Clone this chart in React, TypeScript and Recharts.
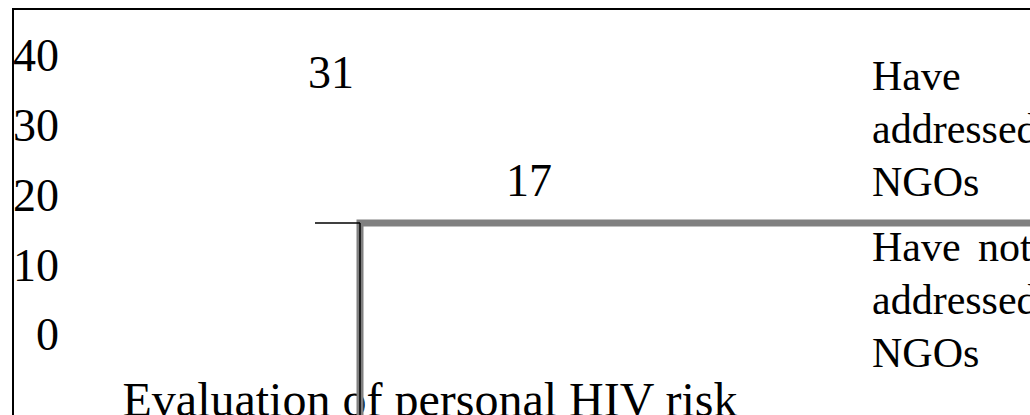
import React from "react";
import { Bar, BarChart, LabelList, Legend, ReferenceArea, XAxis, YAxis } from "recharts";

const categories = ["Evaluation of personal HIV risk"];
const addressedNgos = [31];
const notAddressedNgos = [17];
const seriesNames = ["Have addressed NGOs", "Have not addressed NGOs"];
const yTicks = [0, 10, 20, 30, 40];

const FONT = '"Liberation Serif", "Times New Roman", serif';

const rows = categories.map((category, i) => ({
  category,
  addressed: addressedNgos[i],
  notAddressed: notAddressedNgos[i],
}));

// legend is just the wrapped series names, no swatches
function LegendText({ payload }: any) {
  return (
    <div
      style={{
        fontFamily: FONT,
        fontSize: 42,
        lineHeight: "53px",
        wordSpacing: 7,
        color: "#000",
        width: 220,
      }}
    >
      {(payload ?? []).map((item: any, i: number) => (
        <div key={item.value} style={{ marginTop: i === 0 ? 0 : 12 }}>
          {item.value}
        </div>
      ))}
    </div>
  );
}

const labelStyle = { fontFamily: FONT, fontSize: 46, fill: "#000" };

export default function App() {
  return (
    <div
      style={{
        position: "absolute",
        left: 0,
        top: 0,
        width: 1030,
        height: 415,
        overflow: "hidden",
        background: "#fff",
        fontFamily: FONT,
      }}
    >
      <div
        style={{
          position: "absolute",
          left: 12,
          top: 8,
          width: 1100,
          height: 500,
          borderTop: "2px solid #000",
          borderLeft: "2px solid #000",
        }}
      />
      <div style={{ position: "absolute", left: 0, top: 0 }}>
        <BarChart
          width={1030}
          height={415}
          data={rows}
          margin={{ top: 55, right: 229, bottom: 0, left: 0 }}
          barSize={190}
          barGap={8}
        >
          <XAxis
            dataKey="category"
            height={81}
            axisLine={false}
            tickLine={false}
            tickSize={0}
            tickMargin={48}
            tick={{ fontFamily: FONT, fontSize: 48, fill: "#000" }}
          />
          <YAxis
            yAxisId="ticks"
            width={59}
            domain={[0, 40]}
            allowDataOverflow
            ticks={yTicks}
            interval={0}
            axisLine={false}
            tickLine={false}
            tickSize={0}
            tickMargin={0}
            tick={labelStyle}
          />
          <YAxis yAxisId="bars" hide width={0} domain={[0, 36]} allowDataOverflow />
          <Bar yAxisId="bars" dataKey="addressed" name={seriesNames[0]} fill="none" isAnimationActive={false}>
            <LabelList dataKey="addressed" position="top" offset={6} {...labelStyle} />
          </Bar>
          <Bar yAxisId="bars" dataKey="notAddressed" name={seriesNames[1]} fill="none" isAnimationActive={false}>
            <LabelList dataKey="notAddressed" position="top" offset={6} {...labelStyle} />
          </Bar>
          <Legend
            layout="vertical"
            align="center"
            verticalAlign="middle"
            content={LegendText}
            wrapperStyle={{ left: 872, top: 50, width: 240 }}
          />
        </BarChart>
      </div>
      <div style={{ position: "absolute", left: 0, top: 0 }}>
        {/* plot-area frame, drawn offset like in the source render */}
        <BarChart width={1100} height={480} data={rows} margin={{ top: 223, right: 0, bottom: 0, left: 0 }}>
          <XAxis dataKey="category" hide />
          <ReferenceArea y1={0} y2={1} ifOverflow="visible" fill="none" stroke="#808080" strokeWidth={7} />
          <YAxis
            width={360}
            domain={[0, 1]}
            allowDataOverflow
            ticks={[1]}
            tick={() => <g />}
            tickSize={45}
            axisLine={{ stroke: "#000", strokeWidth: 1.5 }}
            tickLine={{ stroke: "#000", strokeWidth: 1.5 }}
          />
        </BarChart>
      </div>
    </div>
  );
}
